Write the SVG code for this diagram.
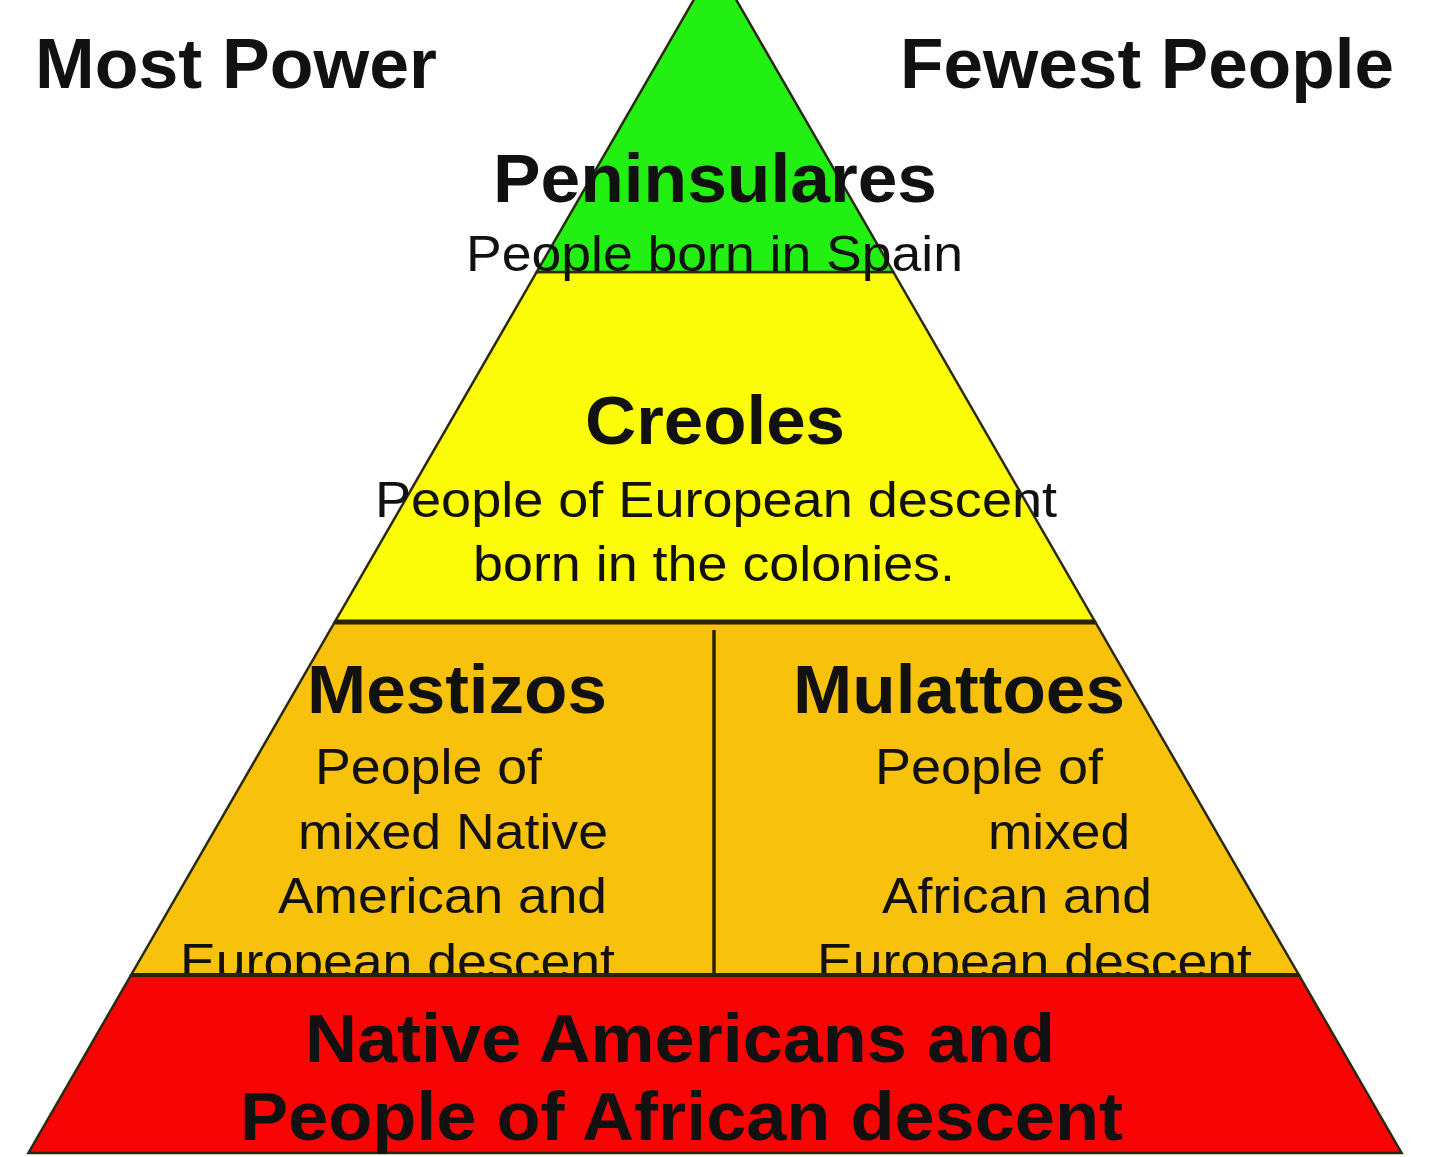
<svg xmlns="http://www.w3.org/2000/svg" width="1440" height="1157" viewBox="0 0 1440 1157">
<style>
  text { font-family: "Liberation Sans", Arial, Helvetica, sans-serif; fill: #111; }
  .hd { font-weight: bold; font-size: 68px; }
  .top { font-weight: bold; font-size: 70px; }
  .ds { font-size: 50px; }
  .tier { stroke: #2a2a10; stroke-width: 2.5; stroke-linejoin: miter; }
  .div { stroke: #2a2208; fill: none; }
</style>
<rect x="0" y="0" width="1440" height="1157" fill="#ffffff"/>

<g id="label-most-power">
  <text class="top" x="35" y="88" textLength="402" lengthAdjust="spacingAndGlyphs">Most Power</text>
</g>
<g id="label-fewest-people">
  <text class="top" x="900" y="88" textLength="494" lengthAdjust="spacingAndGlyphs">Fewest People</text>
</g>

<g id="creoles">
  <polygon class="tier" points="536.7,272 893.3,272 1095.2,622 334.8,622" fill="#FCFC08"/>
  <text class="hd" x="585" y="444" textLength="260" lengthAdjust="spacingAndGlyphs">Creoles</text>
  <text class="ds" x="375" y="517" textLength="682" lengthAdjust="spacingAndGlyphs">People of European descent</text>
  <text class="ds" x="473" y="581" textLength="482" lengthAdjust="spacingAndGlyphs">born in the colonies.</text>
</g>

<g id="peninsulares">
  <polygon class="tier" points="715,-37 893.3,272 536.7,272" fill="#22F012" stroke="#1a3a10"/>
  <text class="hd" x="493" y="202" textLength="444" lengthAdjust="spacingAndGlyphs">Peninsulares</text>
  <text class="ds" x="466" y="271" textLength="497" lengthAdjust="spacingAndGlyphs">People born in Spain</text>
</g>

<g id="mixed-tier">
  <polygon class="tier" points="334.8,622 1095.2,622 1298.9,975 131.1,975" fill="#F8C10C"/>
</g>

<g id="mestizos">
  <text class="hd" x="307" y="713" textLength="300" lengthAdjust="spacingAndGlyphs">Mestizos</text>
  <text class="ds" x="315" y="784" textLength="227" lengthAdjust="spacingAndGlyphs">People of</text>
  <text class="ds" x="298" y="849" textLength="310" lengthAdjust="spacingAndGlyphs">mixed Native</text>
  <text class="ds" x="278" y="913" textLength="329" lengthAdjust="spacingAndGlyphs">American and</text>
  <text class="ds" x="180" y="979" textLength="435" lengthAdjust="spacingAndGlyphs">European descent</text>
</g>

<g id="mulattoes">
  <text class="hd" x="793" y="713" textLength="332" lengthAdjust="spacingAndGlyphs">Mulattoes</text>
  <text class="ds" x="875" y="784" textLength="228" lengthAdjust="spacingAndGlyphs">People of</text>
  <text class="ds" x="988" y="849" textLength="142" lengthAdjust="spacingAndGlyphs">mixed</text>
  <text class="ds" x="882" y="913" textLength="270" lengthAdjust="spacingAndGlyphs">African and</text>
  <text class="ds" x="817" y="979" textLength="435" lengthAdjust="spacingAndGlyphs">European descent</text>
</g>

<g id="native-african">
  <polygon class="tier" points="131.1,975 1298.9,975 1401.6,1153 28.4,1153" fill="#F80404"/>
  <text class="hd" x="305" y="1062" textLength="750" lengthAdjust="spacingAndGlyphs">Native Americans and</text>
  <text class="hd" x="240" y="1140" textLength="883" lengthAdjust="spacingAndGlyphs">People of African descent</text>
</g>

<g id="connectors">
  <line class="div" x1="334.8" y1="622" x2="1095.2" y2="622" stroke-width="5"/>
  <line class="div" x1="131.1" y1="975" x2="1298.9" y2="975" stroke-width="4"/>
  <line class="div" x1="714" y1="630" x2="714" y2="975" stroke-width="3.5"/>
</g>
</svg>
